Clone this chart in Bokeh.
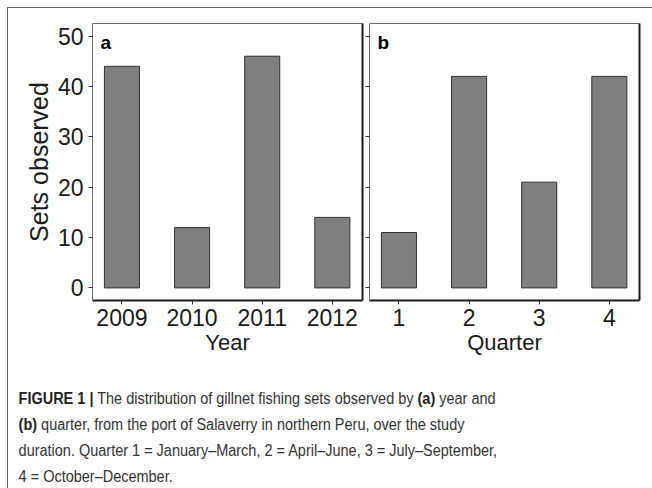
from bokeh.plotting import figure
from bokeh.models import Range1d, FixedTicker, LinearAxis, Label, Div
from bokeh.layouts import row, column
from bokeh.embed import file_html
from bokeh.resources import INLINE

# ---- data ----
years = ["2009", "2010", "2011", "2012"]
sets_by_year = [44, 12, 46, 14]
quarters = ["1", "2", "3", "4"]
sets_by_quarter = [11, 42, 21, 42]
y_ticks = [0, 10, 20, 30, 40, 50]

FONT = "Liberation Sans"
DARK = "#1a1a1a"
GREY_LINE = "#6e6e6e"


def blank_axis(color, width):
    ax = LinearAxis(ticker=FixedTicker(ticks=[]), major_label_text_color=None,
                    major_tick_in=0, major_tick_out=0, minor_tick_in=0, minor_tick_out=0,
                    major_label_standoff=0, axis_line_color=color, axis_line_width=width)
    return ax


def panel(cats, vals, xlabel, letter, show_ylab, width, mbl, mbr):
    n = len(cats)
    xs = list(range(1, n + 1))
    p = figure(width=width, height=360,
               x_range=Range1d(0.58, n + 0.43), y_range=Range1d(-2.5, 52.5),
               output_backend="svg", toolbar_location=None,
               min_border_left=mbl, min_border_right=mbr,
               min_border_top=23, min_border_bottom=60)
    p.outline_line_color = None
    p.grid.visible = False
    p.background_fill_color = "white"
    p.border_fill_color = None

    p.vbar(x=xs, top=vals, bottom=0, width=0.5,
           fill_color="#7f7f7f", line_color="#333333", line_width=1)

    # x axis
    xa = p.xaxis[0]
    xa.ticker = FixedTicker(ticks=xs)
    xa.major_label_overrides = {x: c for x, c in zip(xs, cats)}
    xa.axis_label = xlabel
    xa.axis_label_text_font = FONT
    xa.axis_label_text_font_size = "22px"
    xa.axis_label_text_font_style = "normal"
    xa.axis_label_text_color = DARK
    xa.axis_label_standoff = 1
    xa.major_label_text_font = FONT
    xa.major_label_text_font_size = "23px"
    xa.major_label_text_color = DARK
    xa.major_label_standoff = 4
    xa.major_tick_out = 4
    xa.major_tick_in = 0
    xa.minor_tick_out = 0
    xa.minor_tick_in = 0
    xa.major_tick_line_color = "#333333"
    xa.axis_line_color = DARK
    xa.axis_line_width = 2

    # y axis
    ya = p.yaxis[0]
    ya.ticker = FixedTicker(ticks=y_ticks)
    ya.major_tick_out = 4
    ya.major_tick_in = 0
    ya.minor_tick_out = 0
    ya.minor_tick_in = 0
    ya.major_tick_line_color = "#333333"
    ya.axis_line_color = GREY_LINE
    ya.axis_line_width = 1
    if show_ylab:
        ya.axis_label = "Sets observed"
        ya.axis_label_text_font = FONT
        ya.axis_label_text_font_size = "25px"
        ya.axis_label_text_font_style = "normal"
        ya.axis_label_text_color = DARK
        ya.axis_label_standoff = 2
        ya.major_label_text_font = FONT
        ya.major_label_text_font_size = "23px"
        ya.major_label_text_color = DARK
        ya.major_label_standoff = 5
    else:
        ya.major_label_text_color = None
        ya.major_label_standoff = 0

    p.add_layout(blank_axis(DARK, 2), "right")
    p.add_layout(blank_axis(GREY_LINE, 1), "above")

    p.add_layout(Label(x=0.58, y=52.5, x_offset=8, y_offset=-19, text=letter,
                       text_font=FONT, text_font_size="19px", text_font_style="bold",
                       text_color="black", text_baseline="alphabetic"))
    return p


pa = panel(years, sets_by_year, "Year", "a", True, 365, 92, 3)
pb = panel(quarters, sets_by_quarter, "Quarter", "b", False, 287, 4, 13)

caption_html = (
    "<div style=\"font-family:'Liberation Sans',Arial,sans-serif;"
    "font-size:16px;line-height:26px;color:#333;padding:21px 0 0 15px;white-space:nowrap;"
    "transform:scaleX(0.905);transform-origin:0 0;\">"
    "<b style='color:#222'>FIGURE 1 |</b> The distribution of gillnet fishing sets observed by "
    "<b style='color:#222'>(a)</b> year and<br>"
    "<b style='color:#222'>(b)</b> quarter, from the port of Salaverry in northern Peru, over the study<br>"
    "duration. Quarter 1 = January\u2013March, 2 = April\u2013June, 3 = July\u2013September,<br>"
    "4 = October\u2013December.</div>"
)
cap = Div(text=caption_html, width=652, height=128, styles={"overflow": "hidden"})

frame_bg = ("linear-gradient(#666666,#666666) 7px 7px / 1px calc(100% - 7px) no-repeat, "
            "linear-gradient(#666666,#666666) 7px 7px / calc(100% - 7px) 1px no-repeat, white")
layout = column(row(pa, pb), cap, styles={"background": frame_bg})

open("out.html", "w").write(file_html(layout, INLINE))
